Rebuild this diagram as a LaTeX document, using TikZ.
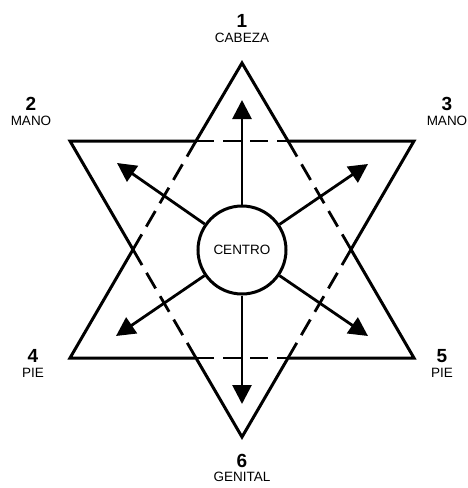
\documentclass[tikz,border=0pt]{standalone}
\usepackage{fontspec}
\setmainfont{Liberation Sans}
\usepackage{tikz}
\usetikzlibrary{positioning,arrows.meta}

\begin{document}
\begin{tikzpicture}[
  x=1pt,y=-1pt,
  edge/.style={line width=3pt,line join=miter},
  hidden/.style={line width=2.8pt,dash pattern=on 18pt off 9pt},
  arr/.style={line width=2.8pt,-{Triangle[length=19pt,width=19pt]}},
  num/.style={font=\fontsize{19}{19}\selectfont\bfseries,inner sep=0pt},
  lab/.style={font=\fontsize{13.5}{13.5}\selectfont,inner sep=0pt}
]
\useasboundingbox (0,0) rectangle (468,488);

% outer points of the star
\coordinate (p1) at (242,63);
\coordinate (p2) at (70,141);
\coordinate (p3) at (414,141);
\coordinate (p4) at (70,358);
\coordinate (p5) at (414,358);
\coordinate (p6) at (242,437);
% inner hexagon
\coordinate (h1) at (196,141);
\coordinate (h2) at (288,141);
\coordinate (h3) at (351,249.5);
\coordinate (h4) at (288,358);
\coordinate (h5) at (196,358);
\coordinate (h6) at (133,249.5);

\draw[edge] (p1) -- (h1) -- (p2) -- (h6) -- (p4) -- (h5) -- (p6) -- (h4) -- (p5) -- (h3) -- (p3) -- (h2) -- cycle;
\foreach \a/\b in {h1/h2,h2/h3,h3/h4,h5/h4,h6/h5,h1/h6}
  \draw[hidden] (\a) -- (\b);

\node[circle,draw,line width=3pt,fill=white,minimum size=88pt,inner sep=0pt,lab] (centro) at (242,250) {CENTRO};

\coordinate (t1) at (242,100);
\coordinate (t2) at (117,163);
\coordinate (t3) at (368,164);
\coordinate (t4) at (116,336);
\coordinate (t5) at (368,336);
\coordinate (t6) at (242,404);
\foreach \t in {t1,t2,t3,t4,t5,t6}
  \draw[arr] (centro) -- (\t);

\node[num] (n1) at (242,21) {1};
\node[lab,below=5pt of n1] (l1) {CABEZA};
\node[num] (n2) at (31,104) {2};
\node[lab,below=5pt of n2] (l2) {MANO};
\node[num] (n3) at (447,104) {3};
\node[lab,below=5pt of n3] (l3) {MANO};
\node[num] (n4) at (33,356) {4};
\node[lab,below=5pt of n4] (l4) {PIE};
\node[num] (n5) at (442,356) {5};
\node[lab,below=5pt of n5] (l5) {PIE};
\node[num] (n6) at (242,461) {6};
\node[lab,below=4pt of n6] (l6) {GENITAL};
\end{tikzpicture}
\end{document}
